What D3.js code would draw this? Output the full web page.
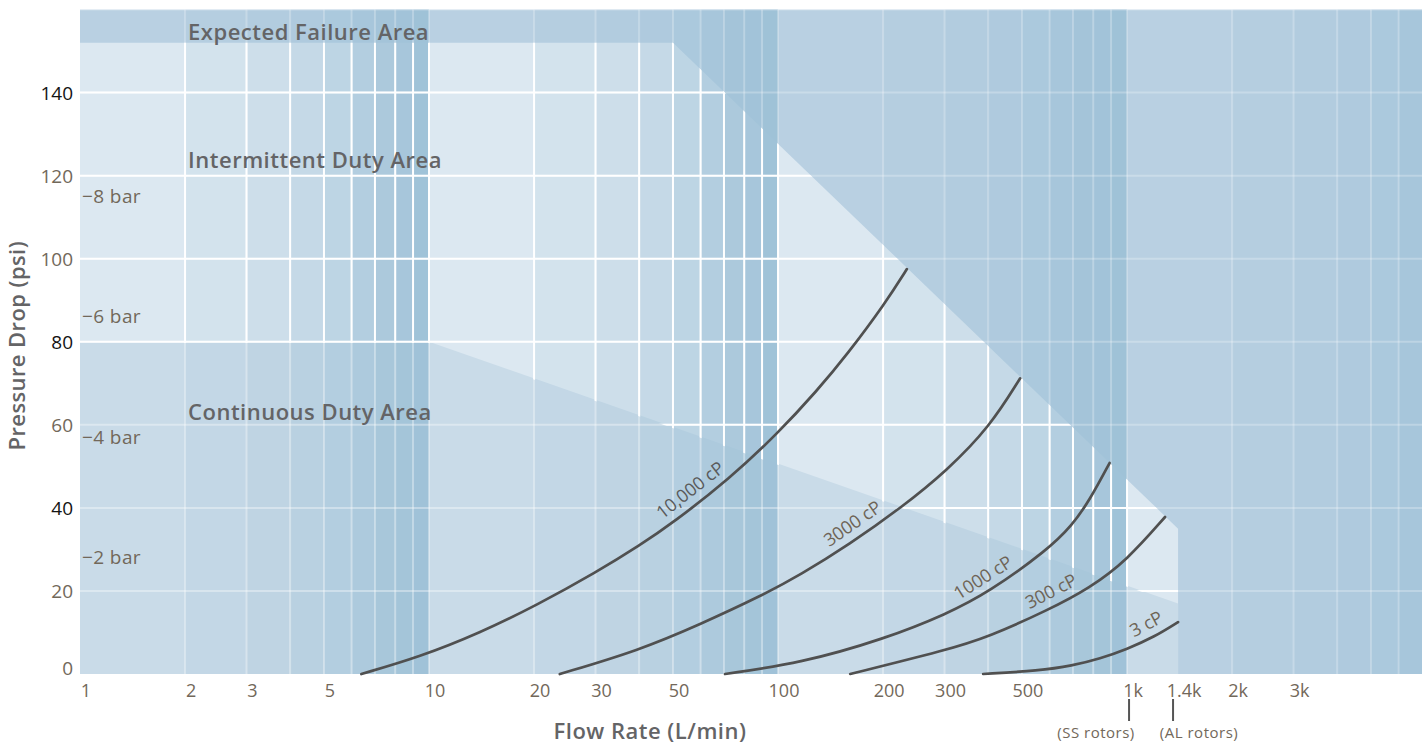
<!DOCTYPE html>
<html>
<head>
<meta charset="utf-8">
<script src="https://cdn.jsdelivr.net/npm/d3@7"></script>
<style>
  html, body { margin: 0; padding: 0; background: #ffffff; }
  svg { display: block; font-family: "Open Sans", "Noto Sans", sans-serif; }
</style>
</head>
<body>
<svg id="chart" width="1424" height="744"></svg>
<script>
// ---- axis ticks ----
const xTickValues = [1, 2, 3, 5, 10, 20, 30, 50, 100, 200, 300, 500, 1000, 1400, 2000, 3000];
const xTickLabels = ["1", "2", "3", "5", "10", "20", "30", "50", "100", "200", "300", "500", "1k", "1.4k", "2k", "3k"];
const yTickValues = [0, 20, 40, 60, 80, 100, 120, 140];
const yTickStrong = [40, 80, 140];
const barValues = [8, 6, 4, 2];
const PSI_PER_BAR = 14.5038;

// ---- rotor limits ----
const rotorFlows = [1000, 1400];
const rotorLabels = ["(SS rotors)", "(AL rotors)"];

// ---- duty zones: upper boundary of each zone (flow L/min, psi) ----
const continuousFlow = [1, 10, 1400];
const continuousPsi = [80, 80, 17];
const intermittentFlow = [1, 50, 1400];
const intermittentPsi = [152, 152, 35];
const zoneNames = ["Expected Failure Area", "Intermittent Duty Area", "Continuous Duty Area"];

// ---- pressure-drop curves per viscosity ----
const viscosityLabels = ["10,000 cP", "3000 cP", "1000 cP", "300 cP", "3 cP"];
const flow10000 = [6.4, 9.4, 14, 20.4, 30.3, 40.2, 50, 72.8, 100, 129, 158, 203, 234];
const psi10000  = [0, 4.1, 9.9, 16.6, 24.6, 31, 36.4, 47.1, 58, 68.1, 77, 89.3, 97.5];
const flow3000 = [23.7, 40, 60, 90, 116, 160, 225, 305, 405, 494];
const psi3000  = [0, 5.7, 12, 18.9, 23.9, 31.2, 40, 49, 59.6, 71.2];
const flow1000 = [70.5, 116, 203, 305, 400, 594, 696, 782, 891];
const psi1000  = [0, 2.6, 8.5, 14.5, 19.6, 30, 35.8, 41.9, 50.8];
const flow300 = [161, 305, 400, 594, 782, 1000, 1285];
const psi300  = [0, 5.8, 8.9, 15.4, 20.7, 27.4, 37.8];
const flow3 = [387, 560, 696, 837, 1000, 1195, 1400];
const psi3  = [0, 0.8, 2.0, 3.7, 6.0, 8.9, 12.5];
// flow value along each curve where its label sits
const labelFlows = [59.6, 173, 408, 634, 1190];

const series = [
  { name: viscosityLabels[0], flow: flow10000, psi: psi10000 },
  { name: viscosityLabels[1], flow: flow3000, psi: psi3000 },
  { name: viscosityLabels[2], flow: flow1000, psi: psi1000 },
  { name: viscosityLabels[3], flow: flow300, psi: psi300 },
  { name: viscosityLabels[4], flow: flow3, psi: psi3 }
];

// ---- layout & style ----
const svg = d3.select("#chart");
const L = 80, R = 1422, T = 9.5, B = 674;
const x = d3.scaleLog().domain([1, 7000]).range([L, R]);
const y = d3.scaleLinear().domain([0, 160]).range([B, T]);

const failureFill = "#b9d0e2";
const intermittentFill = "#dce8f1";
const continuousFill = "#c9dbe8";
const bandFill = "#9ec1d7";
const bandOpacity = [0, 0.13, 0.24, 0.37, 0.5, 0.66, 0.79, 0.87, 0.97];
const tickBrown = "#72685a";
const textGrey = "#646466";

const toPts = (fl, ps) => fl.map((f, i) => [x(f), y(ps[i])]);

// zone fills
svg.append("rect").attr("x", L).attr("y", T).attr("width", R - L).attr("height", B - T).attr("fill", failureFill);

const interPts = [[x(1), y(0)], ...toPts(intermittentFlow, intermittentPsi), [x(1400), y(0)]];
svg.append("polygon").attr("points", interPts.map(p => p.join(",")).join(" ")).attr("fill", intermittentFill);

const contPts = [[x(1), y(0)], ...toPts(continuousFlow, continuousPsi), [x(1400), y(0)]];
svg.append("polygon").attr("points", contPts.map(p => p.join(",")).join(" ")).attr("fill", continuousFill);

// shaded columns inside every decade
const bands = [];
for (let p = 0; p <= 3; p++) {
  for (let i = 1; i <= 9; i++) {
    const a = i * Math.pow(10, p);
    const b = Math.min((i + 1) * Math.pow(10, p), 7000);
    if (a >= 7000) continue;
    bands.push({ a, b, o: bandOpacity[i - 1] });
  }
}
svg.append("g").selectAll("rect").data(bands).join("rect")
  .attr("x", d => x(d.a)).attr("width", d => x(d.b) - x(d.a))
  .attr("y", T).attr("height", B - T)
  .attr("fill", bandFill).attr("fill-opacity", d => d.o);

// grid values
const gridX = [];
for (let p = 0; p <= 3; p++) {
  for (let i = 1; i <= 9; i++) {
    const v = i * Math.pow(10, p);
    if (v > 1 && v < 7000) gridX.push(v);
  }
}
const gridY = d3.range(20, 161, 20);

function drawGrid(g, opacity) {
  g.selectAll("line.v").data(gridX).join("line").attr("class", "v")
    .attr("x1", d => x(d)).attr("x2", d => x(d)).attr("y1", T).attr("y2", B)
    .attr("stroke", "#ffffff").attr("stroke-width", 2).attr("stroke-opacity", opacity);
  g.selectAll("line.h").data(gridY).join("line").attr("class", "h")
    .attr("x1", L).attr("x2", R).attr("y1", d => y(d)).attr("y2", d => y(d))
    .attr("stroke", "#ffffff").attr("stroke-width", 2).attr("stroke-opacity", opacity);
}

// clip regions
const defs = svg.append("defs");
const interTop = toPts(intermittentFlow, intermittentPsi);
const contTop = toPts(continuousFlow, continuousPsi).map(p => [p[0], p[1] + 1.2]).reverse();
defs.append("clipPath").attr("id", "clipInter")
  .append("polygon").attr("points", [...interTop, ...contTop].map(p => p.join(",")).join(" "));
defs.append("clipPath").attr("id", "clipCont")
  .append("polygon").attr("points", contPts.map(p => p.join(",")).join(" "));

drawGrid(svg.append("g"), 0.25);
drawGrid(svg.append("g").attr("clip-path", "url(#clipCont)"), 0.15);
drawGrid(svg.append("g").attr("clip-path", "url(#clipInter)"), 1);

// zone captions
const zoneCaptionPsi = [153, 122, 61.4];
svg.append("g").selectAll("text").data(zoneNames).join("text")
  .attr("x", x(2) + 3)
  .attr("y", (d, i) => y(zoneCaptionPsi[i]) + 1)
  .attr("fill", textGrey).attr("font-size", 22).attr("font-weight", 600)
  .attr("letter-spacing", 0.5)
  .text(d => d);

// curves
const line = d3.line().curve(d3.curveBasis);
const curveG = svg.append("g");
series.forEach((s, k) => {
  const pts = toPts(s.flow, s.psi);
  curveG.append("path").attr("d", line(pts))
    .attr("fill", "none").attr("stroke", "#505050").attr("stroke-width", 2.7)
    .attr("stroke-linecap", "round");

  // label placed along the curve, following its slope
  const px = x(labelFlows[k]);
  const interp = xx => {
    for (let i = 0; i < pts.length - 1; i++) {
      if (xx >= pts[i][0] && xx <= pts[i + 1][0]) {
        const t = (xx - pts[i][0]) / (pts[i + 1][0] - pts[i][0]);
        return pts[i][1] + t * (pts[i + 1][1] - pts[i][1]);
      }
    }
    return xx < pts[0][0] ? pts[0][1] : pts[pts.length - 1][1];
  };
  const py = interp(px);
  const a1 = Math.max(pts[0][0], px - 18), a2 = Math.min(pts[pts.length - 1][0], px + 18);
  const ang = Math.atan2(interp(a2) - interp(a1), a2 - a1) * 180 / Math.PI;
  curveG.append("text")
    .attr("transform", `translate(${px},${py}) rotate(${ang})`)
    .attr("dy", -9).attr("text-anchor", "middle")
    .attr("font-size", 18)
    .attr("fill", k === 0 ? "#5a5a5a" : "#6e6456")
    .text(s.name);
});

// y axis ticks
svg.append("g").selectAll("text").data(yTickValues).join("text")
  .attr("x", 73).attr("y", d => Math.min(y(d) + 7, 675))
  .attr("text-anchor", "end").attr("font-size", 19)
  .attr("fill", d => yTickStrong.includes(d) ? "#141414" : tickBrown)
  .text(d => d);

// bar equivalents
svg.append("g").selectAll("text").data(barValues).join("text")
  .attr("x", 82).attr("y", d => y(d * PSI_PER_BAR) + 10.5)
  .attr("font-size", 19).attr("letter-spacing", 0.4).attr("fill", tickBrown)
  .text(d => "\u2212" + d + " bar");

// x axis ticks
svg.append("g").selectAll("text").data(xTickValues).join("text")
  .attr("x", d => x(d) + 6).attr("y", 697)
  .attr("text-anchor", "middle").attr("font-size", 18).attr("fill", tickBrown)
  .text((d, i) => xTickLabels[i]);

// rotor limit markers
const rotorG = svg.append("g");
rotorG.selectAll("line").data(rotorFlows).join("line")
  .attr("x1", (d, i) => x(d) + (i === 0 ? 2 : -5)).attr("x2", (d, i) => x(d) + (i === 0 ? 2 : -5))
  .attr("y1", 699).attr("y2", 721)
  .attr("stroke", "#555555").attr("stroke-width", 2);
rotorG.selectAll("text").data(rotorFlows).join("text")
  .attr("x", (d, i) => x(d) + (i === 0 ? -31 : 21)).attr("y", 738)
  .attr("text-anchor", "middle").attr("font-size", 15).attr("letter-spacing", 0.5)
  .attr("fill", tickBrown)
  .text((d, i) => rotorLabels[i]);

// axis titles
svg.append("text")
  .attr("transform", `translate(25,${(y(0) + y(160)) / 2 + 4}) rotate(-90)`)
  .attr("text-anchor", "middle").attr("font-size", 22).attr("font-weight", 600)
  .attr("letter-spacing", 0.4).attr("fill", textGrey)
  .text("Pressure Drop (psi)");
svg.append("text")
  .attr("x", 650).attr("y", 739)
  .attr("text-anchor", "middle").attr("font-size", 22).attr("font-weight", 600)
  .attr("letter-spacing", 0.5).attr("fill", textGrey)
  .text("Flow Rate (L/min)");
</script>
</body>
</html>
